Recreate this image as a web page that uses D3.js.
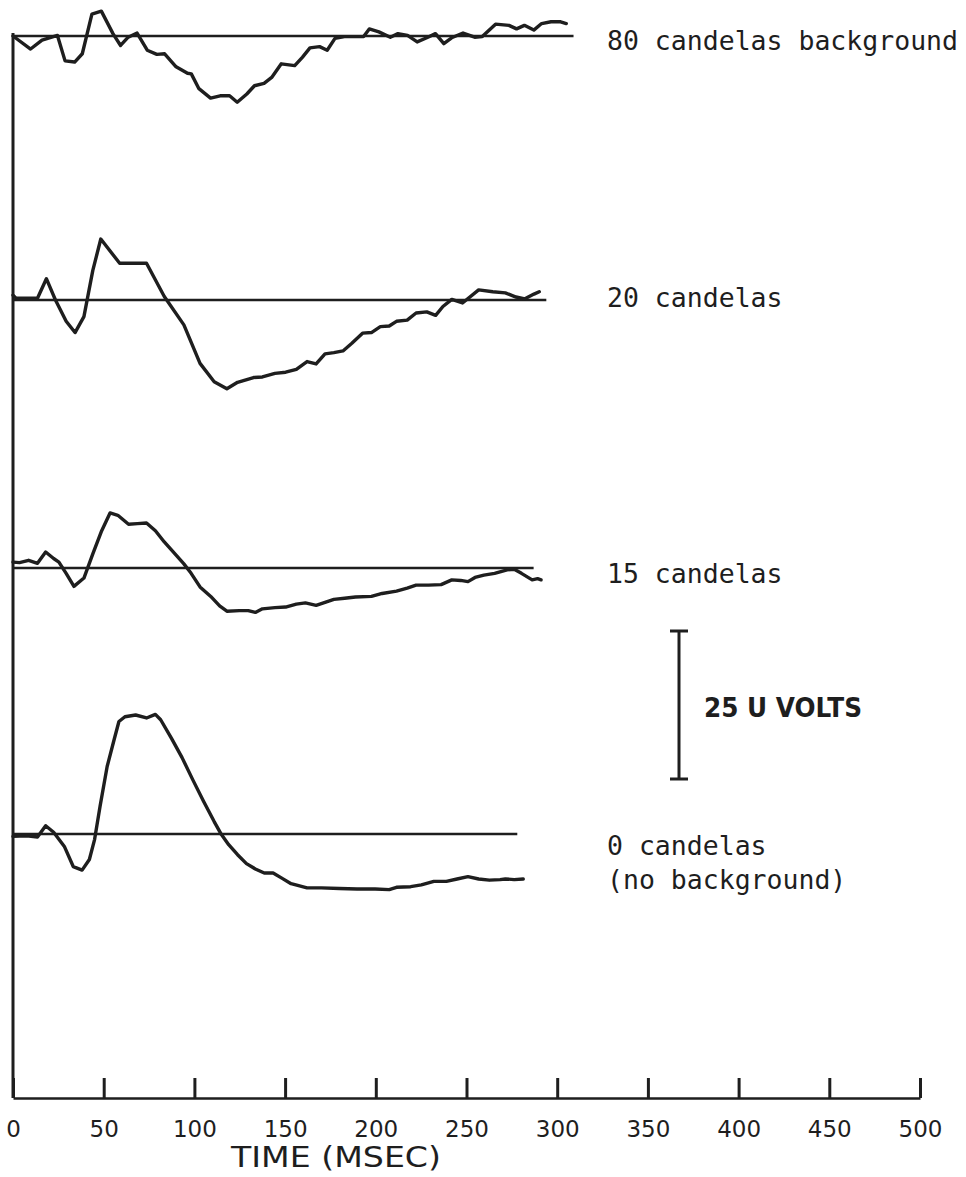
<!DOCTYPE html>
<html>
<head>
<meta charset="utf-8">
<script src="https://cdn.jsdelivr.net/npm/d3@7"></script>
<style>
  html, body { margin: 0; padding: 0; background: #fff; }
  svg { display: block; }
</style>
</head>
<body>
<svg id="chart" width="966" height="1177"></svg>
<script>
// Time axis (ms)
const timeTicks = [0, 50, 100, 150, 200, 250, 300, 350, 400, 450, 500];

// Condition labels, top to bottom
const conditionLabels = [
  ["80 candelas background"],
  ["20 candelas"],
  ["15 candelas"],
  ["0 candelas", "(no background)"]
];

// Extent of each zero line (ms)
const baselineEnd = [309, 294, 287, 278];

// 80 candelas background: time (ms) / amplitude (uV)
const t80 = [0, 9.7, 16.0, 24.5, 28.7, 34.0, 38.2, 43.5, 48.7, 55.1, 59.3, 63.5, 68.4, 74.0, 79.3, 83.6, 89.9,
  96.2, 98.3, 102.5, 108.9, 114.2, 119.4, 123.6, 128.9, 133.1, 138.4, 142.6, 147.9, 155.3, 159.5, 163.7, 169.0,
  173.2, 177.5, 182.7, 193.3, 196.4, 201.7, 208.0, 212.2, 217.5, 222.8, 228.1, 232.9, 237.5, 241.8, 248.1, 254.5,
  258.7, 266.0, 273.4, 277.6, 281.9, 287.1, 291.4, 296.6, 301.9, 305.0];
const v80 = [0, -2.2, -0.7, 0.1, -4.2, -4.4, -3.0, 3.7, 4.2, 0.4, -1.6, -0.2, 0.5, -2.4, -3.1, -3.0, -5.2,
  -6.3, -6.4, -8.9, -10.5, -10.1, -10.1, -11.2, -9.8, -8.4, -8.0, -7.0, -4.7, -5.0, -3.6, -2.0, -1.8,
  -2.4, -0.4, -0.1, -0.1, 1.2, 0.7, -0.2, 0.4, 0.1, -1.0, -0.3, 0.4, -1.3, -0.3, 0.5, -0.2,
  -0.1, 2.0, 1.8, 1.2, 1.8, 1.0, 2.1, 2.4, 2.4, 2.1];

// 20 candelas
const t20 = [0, 1.7, 13.5, 18.4, 23.4, 29.3, 34.2, 39.1, 44.0, 48.4, 58.8, 73.6, 83.4, 94.2, 103.1, 110.9,
  117.9, 123.8, 132.6, 137.5, 144.4, 150.3, 156.2, 162.1, 167.1, 172.0, 176.9, 181.9, 186.8, 192.7, 197.6,
  202.5, 207.4, 211.4, 217.3, 222.2, 228.1, 233.0, 237.0, 241.9, 247.8, 256.7, 264.5, 271.4, 277.3, 282.2,
  287.2, 290.1];
const v20 = [0.8, 0.3, 0.3, 3.6, 0, -3.6, -5.5, -2.8, 5.0, 10.3, 6.2, 6.2, 0.6, -4.2, -10.7, -13.8,
  -15.0, -13.9, -13.1, -13.0, -12.4, -12.2, -11.7, -10.4, -10.8, -9.1, -8.9, -8.6, -7.3, -5.6, -5.5,
  -4.5, -4.4, -3.6, -3.4, -2.2, -2.0, -2.6, -1.1, 0.1, -0.5, 1.7, 1.4, 1.2, 0.5, 0.2,
  1.0, 1.4];

// 15 candelas
const t15 = [0, 3.6, 8.6, 13.5, 18.0, 22.4, 25.3, 29.3, 33.6, 39.1, 44.0, 48.9, 53.5, 57.8, 63.7, 68.6,
  73.6, 78.5, 83.4, 89.3, 94.2, 98.2, 103.1, 109.0, 113.9, 117.9, 124.8, 129.7, 133.6, 137.5, 144.4, 150.3,
  156.2, 161.2, 167.1, 172.0, 176.9, 182.8, 188.8, 197.6, 203.5, 211.4, 217.3, 222.2, 229.1, 236.0, 241.9,
  246.8, 250.8, 254.7, 259.6, 265.5, 272.4, 276.3, 280.3, 286.2, 289.2, 291.1];
const v15 = [1.0, 0.9, 1.3, 0.8, 2.7, 1.6, 1.0, -0.9, -3.1, -1.7, 2.4, 6.3, 9.3, 8.9, 7.4, 7.5,
  7.6, 6.3, 4.4, 2.4, 0.7, -0.9, -3.2, -4.8, -6.4, -7.3, -7.2, -7.2, -7.5, -6.9, -6.7, -6.6,
  -6.1, -5.9, -6.3, -5.8, -5.3, -5.1, -4.9, -4.8, -4.3, -3.9, -3.4, -2.9, -2.9, -2.8, -2.0,
  -2.1, -2.3, -1.6, -1.2, -0.9, -0.3, -0.2, -0.9, -2.0, -1.8, -2.0];

// 0 candelas (no background)
const t0 = [0, 7.6, 13.5, 18.0, 22.4, 28.3, 33.2, 38.1, 42.1, 45.0, 48.0, 51.9, 55.8, 58.4, 61.7, 67.6,
  73.6, 78.5, 81.4, 87.3, 93.2, 99.2, 105.1, 110.9, 114.9, 118.9, 123.8, 128.7, 133.6, 138.5, 143.4, 148.4,
  153.3, 162.1, 170.0, 179.9, 189.7, 199.6, 207.4, 211.4, 219.2, 225.1, 232.0, 238.9, 244.8, 250.8, 256.7,
  262.6, 268.5, 271.4, 276.3, 281.3];
const v0 = [-0.4, -0.3, -0.5, 1.4, 0.3, -2.1, -5.5, -6.1, -4.3, -0.9, 4.7, 11.4, 16.0, 19.0, 19.8, 20.1,
  19.6, 20.2, 19.3, 16.2, 12.9, 9.1, 5.5, 2.1, -0.1, -1.8, -3.5, -5.0, -5.9, -6.6, -6.6, -7.5,
  -8.4, -9.1, -9.1, -9.2, -9.3, -9.3, -9.4, -9.0, -8.9, -8.6, -8.0, -8.0, -7.6, -7.2, -7.6,
  -7.8, -7.7, -7.6, -7.7, -7.6];

// Calibration bar (uV)
const calibration = [0, 25];
const calibrationLabel = "25 U VOLTS";
const axisTitle = "TIME (MSEC)";

const traces = [[t80, v80], [t20, v20], [t15, v15], [t0, v0]];

// ---- layout ----
const ink = "#1e1e1e";
const svg = d3.select("#chart");
const axisY = 1098;
const baselineY = [36, 300, 568, 834];
const pxPerUV = 5.92;

const x = d3.scaleLinear().domain([0, 500]).range([13, 920]);
const yFor = base => d3.scaleLinear().domain([-25, 25]).range([base + 25 * pxPerUV, base - 25 * pxPerUV]);

// left vertical line
svg.append("line")
  .attr("x1", x(0)).attr("x2", x(0))
  .attr("y1", 33).attr("y2", axisY)
  .attr("stroke", ink).attr("stroke-width", 3);

// time axis with upward ticks
const axis = d3.axisBottom(x)
  .tickValues(timeTicks)
  .tickSize(-20)
  .tickSizeOuter(0)
  .tickPadding(30)
  .tickFormat(d3.format("d"));

const gAxis = svg.append("g")
  .attr("transform", `translate(0,${axisY})`)
  .call(axis);
gAxis.select(".domain").attr("stroke", ink).attr("stroke-width", 2.5);
gAxis.selectAll(".tick line").attr("stroke", ink).attr("stroke-width", 3);
gAxis.selectAll(".tick text")
  .attr("fill", ink)
  .attr("font-family", "'DejaVu Sans', sans-serif")
  .attr("font-size", 23)
  .attr("dy", "0.35em")
  .attr("y", 31);

svg.append("text")
  .attr("x", 336).attr("y", 1167)
  .attr("text-anchor", "middle")
  .attr("font-family", "'DejaVu Sans', sans-serif")
  .attr("font-size", 28)
  .attr("textLength", 210).attr("lengthAdjust", "spacingAndGlyphs")
  .attr("fill", ink)
  .text(axisTitle);

// traces
const line = d3.line().curve(d3.curveLinear);
traces.forEach(([ts, vs], i) => {
  const y = yFor(baselineY[i]);
  svg.append("line")
    .attr("x1", x(0)).attr("x2", x(baselineEnd[i]))
    .attr("y1", y(0)).attr("y2", y(0))
    .attr("stroke", ink).attr("stroke-width", 2.5);
  svg.append("path")
    .attr("d", line(ts.map((t, j) => [x(t), y(vs[j])])))
    .attr("fill", "none")
    .attr("stroke", ink)
    .attr("stroke-width", 3.4)
    .attr("stroke-linejoin", "round")
    .attr("stroke-linecap", "round");
});

// condition labels
const labelBaselines = [50, 307, 583, 855];
conditionLabels.forEach((lines, i) => {
  lines.forEach((s, k) => {
    svg.append("text")
      .attr("x", 607).attr("y", labelBaselines[i] + k * 34)
      .attr("font-family", "'DejaVu Sans Mono', monospace")
      .attr("font-size", 26.5)
      .attr("fill", ink)
      .text(s);
  });
});

// calibration bar
const yCal = d3.scaleLinear().domain([0, 25]).range([779, 779 - 25 * pxPerUV]);
const barX = 679;
svg.append("line")
  .attr("x1", barX).attr("x2", barX)
  .attr("y1", yCal(calibration[0])).attr("y2", yCal(calibration[1]))
  .attr("stroke", ink).attr("stroke-width", 3);
calibration.forEach(v => {
  svg.append("line")
    .attr("x1", barX - 9).attr("x2", barX + 9)
    .attr("y1", yCal(v)).attr("y2", yCal(v))
    .attr("stroke", ink).attr("stroke-width", 3);
});
svg.append("text")
  .attr("x", 704).attr("y", 717)
  .attr("font-family", "'DejaVu Sans', sans-serif")
  .attr("font-weight", "bold")
  .attr("font-size", 26)
  .attr("textLength", 158).attr("lengthAdjust", "spacingAndGlyphs")
  .attr("fill", ink)
  .text(calibrationLabel);
</script>
</body>
</html>
